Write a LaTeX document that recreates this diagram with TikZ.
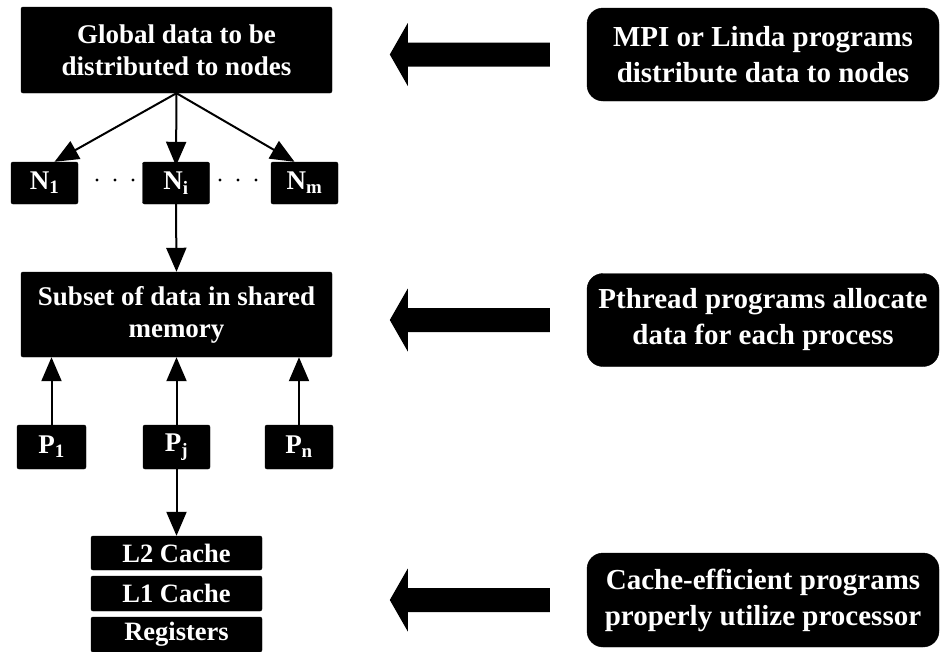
\documentclass[tikz,border=0pt]{standalone}
\usepackage{fontspec}
\setmainfont{Liberation Serif}
\usetikzlibrary{arrows.meta,calc}
\begin{document}
\begin{tikzpicture}[x=1pt,y=-1pt,
  blk/.style={fill=black, draw=black, rounded corners=2pt, text=white,
    font=\bfseries\fontsize{27}{32}\selectfont, align=center, inner sep=0pt},
  smallblk/.style={blk, font=\bfseries\fontsize{26.5}{28}\selectfont},
  note/.style={fill=black, draw=black, rounded corners=16pt, text=white,
    font=\bfseries\fontsize{29}{36}\selectfont, align=center, inner sep=0pt,
    minimum width=352pt, minimum height=93pt},
  conn/.style={line width=2pt, -{Triangle[length=24pt,width=20pt]}},
  bigarrow/.pic={\fill (0,-12) -- (-142,-12) -- (-142,-31.5) -- (-160,0)
    -- (-142,31.5) -- (-142,12) -- (0,12) -- cycle;}
]
\useasboundingbox (0,0) rectangle (940,651);

% distributed level
\node[blk, minimum width=311pt, minimum height=86pt] (glob) at (176.5,50)
  {Global data to be\\distributed to nodes};
\node[blk, minimum width=67pt, minimum height=42pt] (N1) at (44.5,183) {N\textsubscript{1}};
\node[blk, minimum width=67pt, minimum height=42pt] (Ni) at (176,183) {N\textsubscript{i}};
\node[blk, minimum width=67pt, minimum height=42pt] (Nm) at (304.5,183) {N\textsubscript{m}};
\foreach \x in {97,115,133,220,238,256} \fill (\x,180) circle (1.6pt);

\draw[conn] (glob.south) -- ([xshift=10pt]N1.north);
\draw[conn] (glob.south) -- ([yshift=-4pt]Ni.north);
\draw[conn] (glob.south) -- ([xshift=-10pt]Nm.north);

% shared-memory level
\node[blk, minimum width=311pt, minimum height=85pt] (shm) at (176.5,314.5)
  {Subset of data in shared\\memory};
\draw[conn] (Ni.south) -- (shm.north);

\node[blk, minimum width=69pt, minimum height=44pt] (P1) at (51.5,447) {P\textsubscript{1}};
\node[blk, minimum width=67pt, minimum height=44pt] (Pj) at (176.5,447) {P\textsubscript{j}};
\node[blk, minimum width=68pt, minimum height=44pt] (Pn) at (299,447) {P\textsubscript{n}};
\draw[conn] (P1.north) -- (P1.north |- shm.south);
\draw[conn] (Pj.north) -- (shm.south);
\draw[conn] (Pn.north) -- (Pn.north |- shm.south);

% processor level
\node[smallblk, minimum width=171pt, minimum height=34pt] (L2) at (176.5,553) {L2 Cache};
\node[smallblk, minimum width=171pt, minimum height=35pt] (L1) at (176.5,593.5) {L1 Cache};
\node[smallblk, minimum width=171pt, minimum height=35pt] (reg) at (176.5,634.5) {Registers};
\draw[conn] (Pj.south) -- (L2.north);

% programming models
\node[note] (mpi) at (763,54.5) {MPI or Linda programs\\distribute data to nodes};
\node[note] (pth) at (763,320) {Pthread programs allocate\\data for each process};
\node[note, minimum height=94pt] (cef) at (763,600) {Cache-efficient programs\\properly utilize processor};

\pic at ($(mpi.west)+(-37,0)$) {bigarrow};
\pic at ($(pth.west)+(-37,0)$) {bigarrow};
\pic at ($(cef.west)+(-37,0)$) {bigarrow};
\end{tikzpicture}
\end{document}
